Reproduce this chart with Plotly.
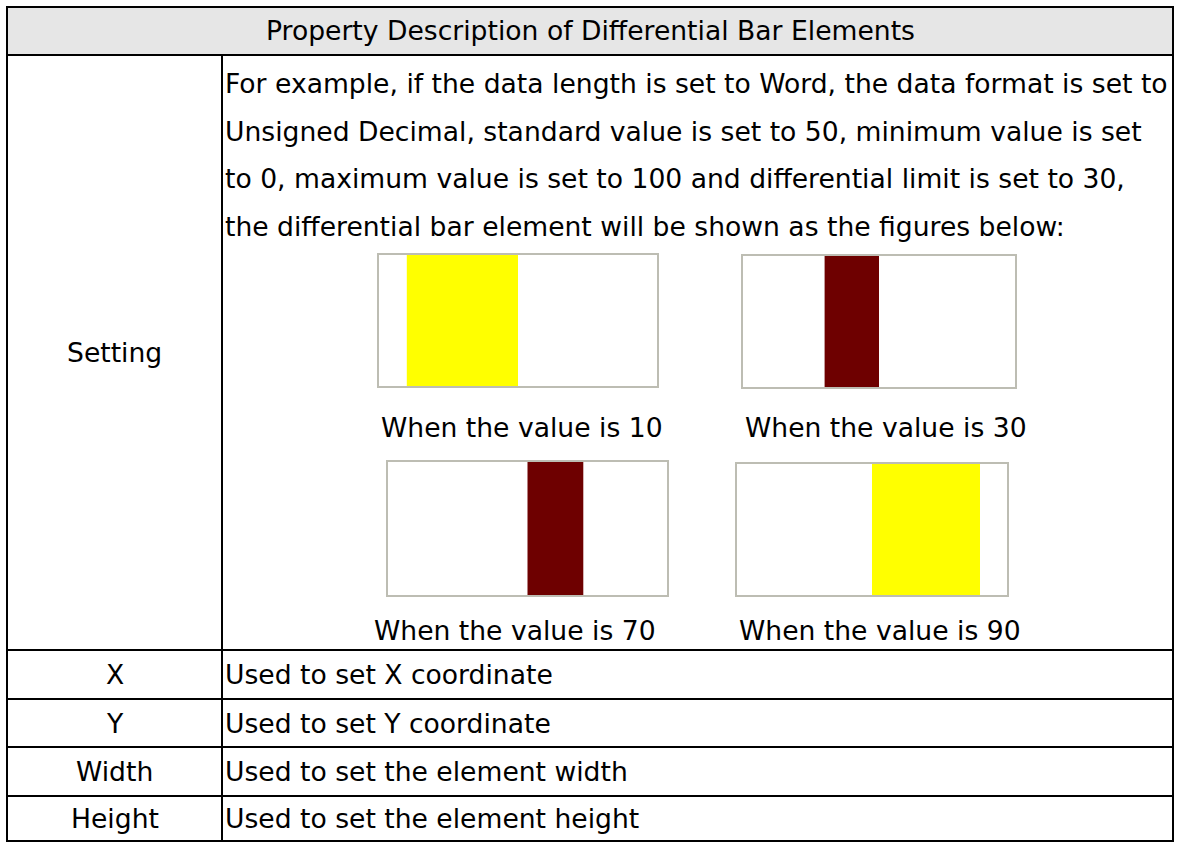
import plotly.graph_objects as go

W, H = 1182, 843

# ---- data ----
title = "Property Description of Differential Bar Elements"
setting_lines = [
    "For example, if the data length is set to Word, the data format is set to",
    "Unsigned Decimal, standard value is set to 50, minimum value is set",
    "to 0, maximum value is set to 100 and differential limit is set to 30,",
    "the differential bar element will be shown as the figures below:",
]
standard_value = 50
min_value = 0
max_value = 100
diff_limit = 30
example_values = [10, 30, 70, 90]
caption_fmt = "When the value is {}"
row_labels = ["X", "Y", "Width", "Height"]
row_descs = ["Used to set X coordinate", "Used to set Y coordinate",
             "Used to set the element width", "Used to set the element height"]

# ---- layout (pixel geometry) ----
FONT = "DejaVu Sans"
FS = 26.6
def px(x): return x / W
def py(y): return 1 - y / H

L, R, T, B = 7, 1173, 7, 841
HEAD_B = 55
COL = 222
ROW_LINES = [650, 699, 747, 796]
fig_boxes = [(379, 657, 255, 386), (743, 1015, 256, 387),
             (388, 667, 462, 595), (737, 1007, 464, 595)]
cap_pos = [(522, 427), (886, 427), (515, 630), (880, 630)]
para_y = [83, 131, 178, 226]

fig = go.Figure()
shapes = []
annos = []

# header fill
shapes.append(dict(type="rect", xref="paper", yref="paper", x0=px(L), x1=px(R), y0=py(HEAD_B), y1=py(T),
                   fillcolor="#e6e6e6", line=dict(width=0), layer="below"))
line = dict(color="black", width=2)
shapes.append(dict(type="rect", xref="paper", yref="paper", x0=px(L), x1=px(R), y0=py(B), y1=py(T), line=line))
shapes.append(dict(type="line", xref="paper", yref="paper", x0=px(L), x1=px(R), y0=py(HEAD_B), y1=py(HEAD_B), line=line))
shapes.append(dict(type="line", xref="paper", yref="paper", x0=px(COL), x1=px(COL), y0=py(HEAD_B), y1=py(B), line=line))
for yl in ROW_LINES:
    shapes.append(dict(type="line", xref="paper", yref="paper", x0=px(L), x1=px(R), y0=py(yl), y1=py(yl), line=line))

def text(x, y, s, xanchor="center"):
    annos.append(dict(xref="paper", yref="paper", x=px(x), y=py(y), text=s, showarrow=False,
                      xanchor=xanchor, yanchor="middle", font=dict(family=FONT, size=FS, color="black")))

text((L + R) / 2, (T + HEAD_B) / 2, title)
text((L + COL) / 2, (HEAD_B + ROW_LINES[0]) / 2, "Setting")
for s, y in zip(setting_lines, para_y):
    text(COL + 1, y, s, xanchor="left")
bounds = ROW_LINES + [B]
for i, (lab, desc) in enumerate(zip(row_labels, row_descs)):
    yc = (bounds[i] + bounds[i + 1]) / 2
    text((L + COL) / 2, yc, lab)
    text(COL + 1, yc, desc, xanchor="left")

# small differential bar figures
for i, (v, (x0, x1, y0, y1), (cx, cy)) in enumerate(zip(example_values, fig_boxes, cap_pos)):
    n = i + 1
    xa = "x" if n == 1 else f"x{n}"
    ya = "y" if n == 1 else f"y{n}"
    diff = v - standard_value
    color = "#ffff00" if abs(diff) > diff_limit else "#6e0000"
    fig.add_trace(go.Bar(x=[diff], y=[0], base=[standard_value], orientation="h", width=1,
                         marker=dict(color=color, line=dict(width=0)), xaxis=xa, yaxis=ya,
                         showlegend=False, hoverinfo="skip"))
    axcommon = dict(showgrid=False, zeroline=False, showticklabels=False, ticks="",
                    showline=True, mirror=True, linecolor="#bdbdb3", linewidth=2, fixedrange=True)
    fig.update_layout(**{
        ("xaxis" if n == 1 else f"xaxis{n}"): dict(domain=[px(x0), px(x1)], range=[min_value, max_value],
                                                  anchor=ya, **axcommon),
        ("yaxis" if n == 1 else f"yaxis{n}"): dict(domain=[py(y1), py(y0)], range=[-0.5, 0.5],
                                                  anchor=xa, **axcommon),
    })
    text(cx, cy, caption_fmt.format(v))

fig.update_layout(width=W, height=H, margin=dict(l=0, r=0, t=0, b=0),
                  paper_bgcolor="white", plot_bgcolor="white",
                  shapes=shapes, annotations=annos, showlegend=False)

fig.write_html("out.html", config={"displayModeBar": False},
               post_script="document.body.style.margin='0';")
